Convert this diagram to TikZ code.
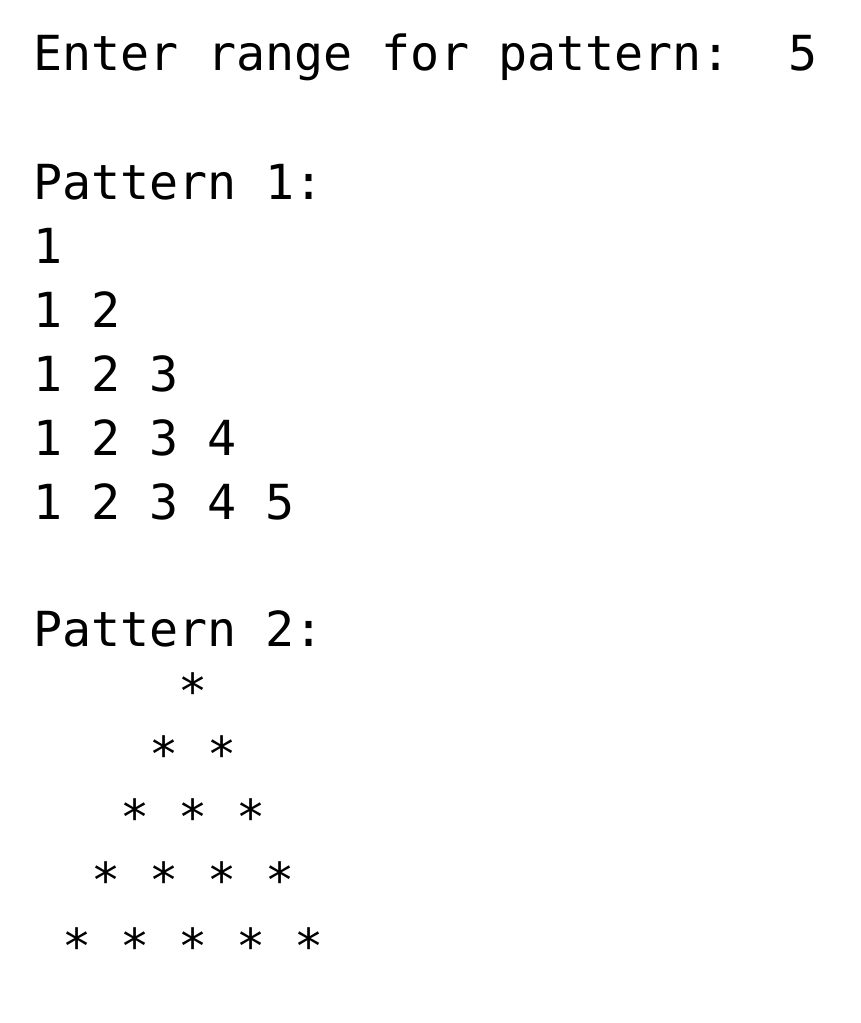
\documentclass[tikz,border=0pt]{standalone}
\usepackage{fontspec}
\setmonofont{DejaVu Sans Mono}
\begin{document}
\begin{tikzpicture}[x=1pt,y=-1pt,
  txt/.style={anchor=base west, inner sep=0pt, outer sep=0pt,
    font=\ttfamily\fontsize{48.3}{58}\selectfont, text=black}]
\useasboundingbox[fill=white] (0,0) rectangle (860,1023);
\def\xo{33}
\node[txt] (enter) at (\xo,70) {Enter range for pattern:~~5};
\node[txt] (p1) at (\xo,199) {Pattern 1:};
\node[txt] (a1) at (\xo,263) {1};
\node[txt] (a2) at (\xo,327) {1 2};
\node[txt] (a3) at (\xo,391) {1 2 3};
\node[txt] (a4) at (\xo,455) {1 2 3 4};
\node[txt] (a5) at (\xo,519) {1 2 3 4 5};
\node[txt] (p2) at (\xo,646) {Pattern 2:};
\node[txt] (b1) at (\xo,708) {~~~~~*};
\node[txt] (b2) at (\xo,771) {~~~~*~*};
\node[txt] (b3) at (\xo,834) {~~~*~*~*};
\node[txt] (b4) at (\xo,897) {~~*~*~*~*};
\node[txt] (b5) at (\xo,963) {~*~*~*~*~*};
\end{tikzpicture}
\end{document}
